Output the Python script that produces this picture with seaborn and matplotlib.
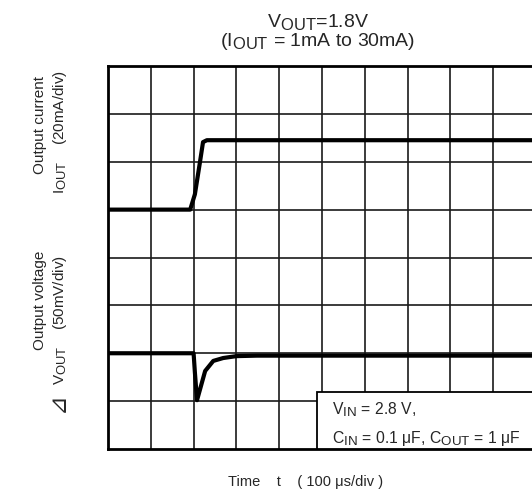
import matplotlib
matplotlib.use("Agg")
import matplotlib.pyplot as plt
import matplotlib._mathtext as _mt
import seaborn as sns
import pandas as pd
from matplotlib.patches import Rectangle

# ---- data (in divisions) ----
iout_t = [0.0, 1.92, 2.03, 2.15, 2.22, 2.31, 9.95]
iout_v = [5.0, 5.0, 5.32, 6.0, 6.41, 6.45, 6.45]
vout_t = [0.0, 2.0, 2.03, 2.08, 2.27, 2.46, 2.69, 3.0, 3.48, 9.95]
vout_v = [2.0, 2.0, 1.6, 1.02, 1.63, 1.84, 1.90, 1.94, 1.95, 1.95]

title_lines = [r"V$_{\mathrm{OUT}}$=1.8V", r"(I$_{\mathrm{OUT}}$ = 1mA to 30mA)"]
xlabel = "Time    t    ( 100 μs/div )"
note_lines = [r"V$_{\mathrm{IN}}$ = 2.8 V,",
              r"C$_{\mathrm{IN}}$ = 0.1 μF, C$_{\mathrm{OUT}}$ = 1 μF"]

# larger subscripts, like the original
try:
    _mt.SHRINK_FACTOR = 0.85
except Exception:
    pass

sns.set_style("white")
plt.rcParams["font.family"] = ["Liberation Sans", "DejaVu Sans"]
plt.rcParams["mathtext.fontset"] = "custom"
plt.rcParams["mathtext.rm"] = "Liberation Sans"
plt.rcParams["mathtext.it"] = "Liberation Sans:italic"
plt.rcParams["mathtext.bf"] = "Liberation Sans:bold"

W, H = 532, 502
fig = plt.figure(figsize=(W / 100, H / 100), dpi=100)
L, R, T, B = 108, 532, 67, 450
ax = fig.add_axes([L / W, 1 - B / H, (R - L) / W, (B - T) / H])

xmax = (R - L) / 42.8
ax.set_xlim(0, xmax)
ax.set_ylim(0, 8)

for x in range(1, 10):
    ax.axvline(x, color="#1a1a1a", lw=1.2, zorder=1)
for y in range(1, 8):
    ax.axhline(y, color="#1a1a1a", lw=1.2, zorder=1)

df_i = pd.DataFrame({"t": iout_t, "v": iout_v})
df_v = pd.DataFrame({"t": vout_t, "v": vout_v})
sns.lineplot(data=df_i, x="t", y="v", ax=ax, color="black", lw=3.0, sort=False, zorder=3)
sns.lineplot(data=df_v, x="t", y="v", ax=ax, color="black", lw=3.0, sort=False, zorder=3)

for s in ["left", "top", "bottom"]:
    ax.spines[s].set_visible(True)
    ax.spines[s].set_color("black")
    ax.spines[s].set_linewidth(2.0)
ax.spines["right"].set_visible(False)
ax.set_xticks([])
ax.set_yticks([])
ax.set_xlabel("")
ax.set_ylabel("")

# note box
bx0 = (317 - L) / 42.8
by1 = (B - 393) / 47.9
ax.add_patch(Rectangle((bx0, 0), xmax - bx0 + 0.5, by1, facecolor="white",
                       edgecolor="black", lw=1.3, zorder=4, clip_on=True))
ax.text((332 - L) / 42.8, (B - 410) / 47.9, note_lines[0], fontsize=11.3,
        va="center", ha="left", zorder=5)
ax.text((332 - L) / 42.8, (B - 438) / 47.9, note_lines[1], fontsize=11.3,
        va="center", ha="left", zorder=5)

# title
fig.text(318 / W, 1 - 22 / H, title_lines[0], fontsize=14, ha="center", va="center")
fig.text(318 / W, 1 - 42 / H, title_lines[1], fontsize=14, ha="center", va="center")

# x label
fig.text(306 / W, 1 - 482 / H, xlabel, fontsize=10.5, ha="center", va="center")

# y labels
fig.text(40 / W, 1 - 125 / H, "Output current", fontsize=11, rotation=90,
         ha="center", va="center")
fig.text(60 / W, 1 - 132 / H, r"I$_{\mathrm{OUT}}$    (20mA/div)", fontsize=11,
         rotation=90, ha="center", va="center")
fig.text(40 / W, 1 - 300 / H, "Output voltage", fontsize=11, rotation=90,
         ha="center", va="center")
fig.text(60 / W, 1 - 320 / H, r"V$_{\mathrm{OUT}}$    (50mV/div)", fontsize=11,
         rotation=90, ha="center", va="center")
fig.text(57 / W, 1 - 402 / H, "⊿", fontsize=17, rotation=90,
         ha="center", va="center", family="DejaVu Sans")

fig.savefig("out.png", dpi=100)
